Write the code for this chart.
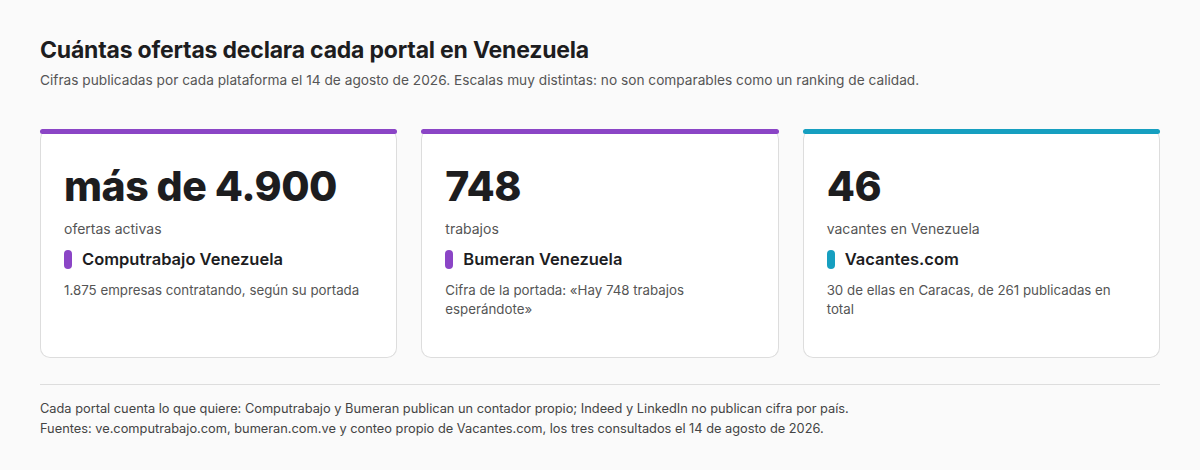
<!DOCTYPE html>
<html lang="es">
<head>
<meta charset="UTF-8">
<title>Ofertas por portal</title>
<script src="https://cdn.jsdelivr.net/npm/chart.js"></script>
<style>
  body { margin: 0; background: #fafafa; font-family: 'Inter', 'Noto Sans', sans-serif; color: #1d1d1f; width: 1200px; height: 470px; overflow: hidden; }
  .wrap { padding: 36px 40px 0 40px; }
  h1 { font-size: 23px; font-weight: 700; margin: 0 0 8px 0; letter-spacing: -0.2px; }
  .sub { font-size: 13.7px; color: #555; margin: 0; }
  .cards { display: flex; gap: 24px; margin-top: 41px; }
  .card { flex: 1; height: 229px; background: #fff; border: 1px solid #ddd; border-top: none; border-radius: 10px; position: relative; padding: 0 23px; box-sizing: border-box; }
  .card::before { content: ''; position: absolute; left: -1px; right: -1px; top: 0; height: 5px; border-radius: 3px; background: var(--c); }
  .big { font-size: 41px; font-weight: 800; letter-spacing: -0.5px; margin-top: 32px; line-height: 50px; }
  .lab { font-size: 14px; color: #555; margin-top: 9px; }
  .name { font-size: 16.5px; font-weight: 600; margin-top: 12px; display: flex; align-items: center; }
  .name i { display: inline-block; width: 8px; height: 19px; border-radius: 4px; background: var(--c); margin-right: 10px; }
  .note { font-size: 13.3px; color: #555; margin-top: 12px; line-height: 19px; }
  hr { border: none; border-top: 1px solid #ddd; margin: 26px 0 14px 0; }
  .foot { font-size: 12.8px; color: #444; line-height: 20px; }
  canvas { display: none; }
</style>
</head>
<body>
<div class="wrap">
  <h1>Cuántas ofertas declara cada portal en Venezuela</h1>
  <p class="sub">Cifras publicadas por cada plataforma el 14 de agosto de 2026. Escalas muy distintas: no son comparables como un ranking de calidad.</p>
  <div class="cards" id="cards"></div>
  <hr>
  <div class="foot">Cada portal cuenta lo que quiere: Computrabajo y Bumeran publican un contador propio; Indeed y LinkedIn no publican cifra por país.<br>Fuentes: ve.computrabajo.com, bumeran.com.ve y conteo propio de Vacantes.com, los tres consultados el 14 de agosto de 2026.</div>
</div>
<canvas id="c"></canvas>
<script>
const portales = ['Computrabajo Venezuela', 'Bumeran Venezuela', 'Vacantes.com'];
const cifras = ['más de 4.900', '748', '46'];
const unidades = ['ofertas activas', 'trabajos', 'vacantes en Venezuela'];
const notas = ['1.875 empresas contratando, según su portada', 'Cifra de la portada: «Hay 748 trabajos esperándote»', '30 de ellas en Caracas, de 261 publicadas en total'];
const colores = ['#8b45c6', '#8b45c6', '#169fc0'];

const cont = document.getElementById('cards');
portales.forEach((p, i) => {
  const d = document.createElement('div');
  d.className = 'card';
  d.style.setProperty('--c', colores[i]);
  d.innerHTML = '<div class="big">' + cifras[i] + '</div><div class="lab">' + unidades[i] +
    '</div><div class="name"><i></i>' + p + '</div><div class="note">' + notas[i] + '</div>';
  cont.appendChild(d);
});
</script>
</body>
</html>
